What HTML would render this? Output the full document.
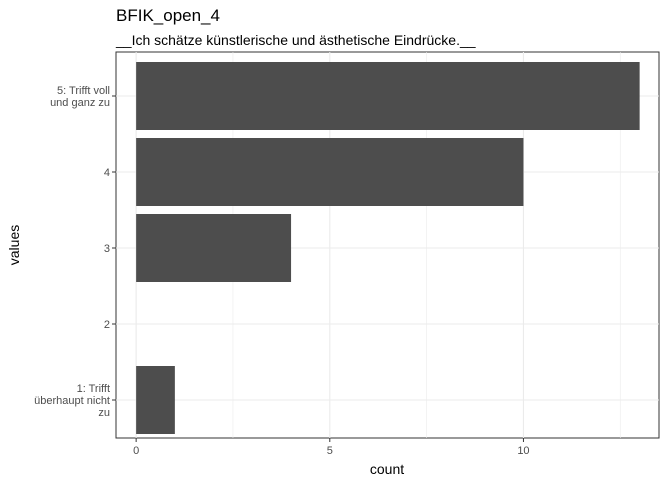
<!DOCTYPE html>
<html><head><meta charset="utf-8"><style>body{margin:0;background:#fff}svg{font-family:"Liberation Sans",sans-serif}</style></head>
<body>
<svg id="chart" width="672" height="487">
<text x="116" y="21" font-size="17" fill="#000">BFIK_open_4</text>
<text x="116" y="45" font-size="14" fill="#000">__Ich schätze künstlerische und ästhetische Eindrücke.__</text>
<rect x="116" y="52" width="543" height="386" fill="#fff" stroke="#333" stroke-width="1"/>
<g id="grid"></g><g id="bars"></g><g id="axes"></g>
<text x="387" y="474" font-size="14" text-anchor="middle">count</text>
<text transform="translate(19,245) rotate(-90)" font-size="14" text-anchor="middle">values</text>
</svg>
<script>
const categories=["1: Trifft\nüberhaupt nicht\nzu","2","3","4","5: Trifft voll\nund ganz zu"];
const counts=[1,0,4,10,13];
const xTicks=[0,5,10];
const NS="http://www.w3.org/2000/svg";
const L=116,R=659,T=52,B=438,xmin=-0.52,xmax=13.5;
const x=v=>L+(v-xmin)/(xmax-xmin)*(R-L);
const y=i=>400-i*76;
function mk(tag,attrs,parent){const e=document.createElementNS(NS,tag);for(const k in attrs)e.setAttribute(k,attrs[k]);document.getElementById(parent).appendChild(e);return e;}
for(let v=2.5;v<xmax;v+=5){const e=mk("line",{x1:x(v),x2:x(v),y1:T,y2:B,stroke:"#ebebeb","stroke-width":0.6},"grid");

}
xTicks.forEach(v=>{const e=mk("line",{x1:x(v),x2:x(v),y1:T,y2:B,stroke:"#ebebeb","stroke-width":1.1},"grid");


const t=mk("line",{x1:x(v),x2:x(v),y1:B,y2:B+4,stroke:"#333"},"axes");


const l=mk("text",{x:x(v),y:B+16,"font-size":11,fill:"#4d4d4d","text-anchor":"middle"},"axes");l.textContent=v;

});
categories.forEach((c,i)=>{const g=mk("line",{x1:L,x2:R,y1:y(i),y2:y(i),stroke:"#ebebeb","stroke-width":1.1},"grid");


if(counts[i]>0){const b=mk("rect",{x:x(0),y:y(i)-34,width:x(counts[i])-x(0),height:68,fill:"#4d4d4d"},"bars");

}
const t=mk("line",{x1:L-4,x2:L,y1:y(i),y2:y(i),stroke:"#333"},"axes");


const lines=c.split("\n");const lbl=mk("text",{x:L-6,"font-size":11,fill:"#4d4d4d","text-anchor":"end"},"axes");


lines.forEach((s,k)=>{const ts=document.createElementNS(NS,"tspan");ts.setAttribute("x",L-6);ts.setAttribute("y",y(i)+4+(k-(lines.length-1)/2)*12);ts.textContent=s;lbl.appendChild(ts);});});
</script>
</body></html>
